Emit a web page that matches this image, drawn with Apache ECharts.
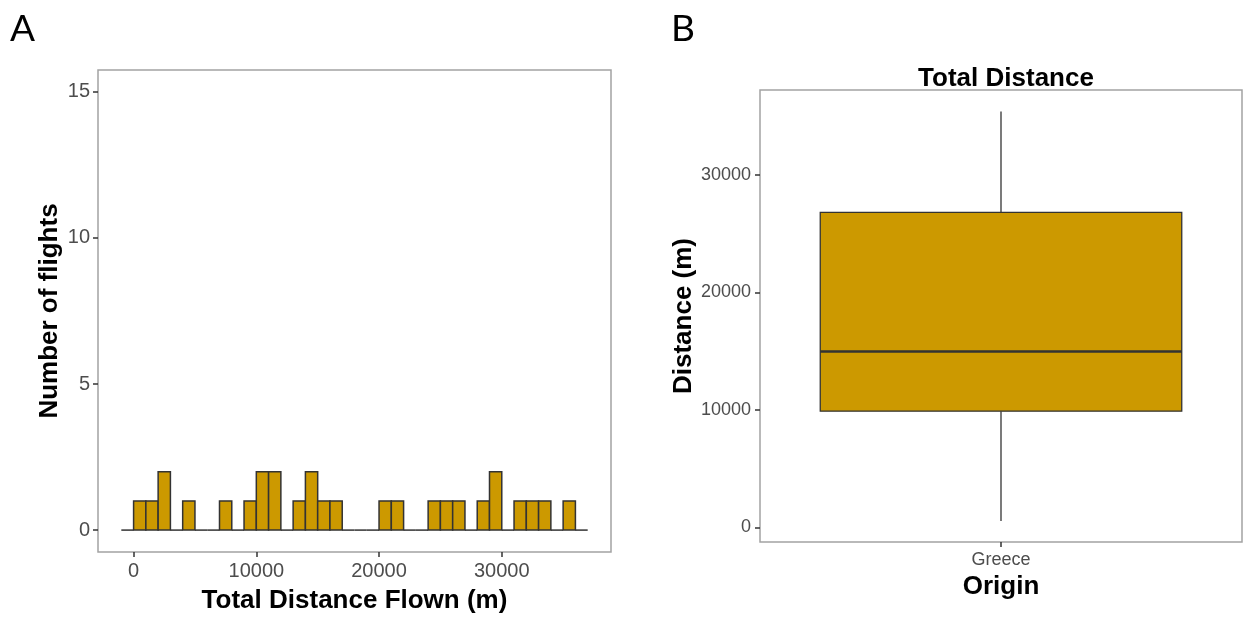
<!DOCTYPE html>
<html lang="en">
<head>
    <meta charset="UTF-8">
    <title>Total Distance</title>
    <script src="https://cdn.jsdelivr.net/npm/echarts@6/dist/echarts.min.js"></script>
    <style>
        html, body { margin: 0; padding: 0; background: #fff; }
        #main { width: 1246px; height: 617px; }
    </style>
</head>
<body>
    <div id="main"></div>
    <script type="text/javascript">
        // histogram: bin start (m), bin width 1000 m, number of flights per bin
        const binStarts = [-1000, 0, 1000, 2000, 3000, 4000, 5000, 6000, 7000, 8000, 9000,
            10000, 11000, 12000, 13000, 14000, 15000, 16000, 17000, 18000, 19000,
            20000, 21000, 22000, 23000, 24000, 25000, 26000, 27000, 28000, 29000,
            30000, 31000, 32000, 33000, 34000, 35000, 36000];
        const binWidth = 1000;
        const flightCounts = [0, 1, 1, 2, 0, 1, 0, 0, 1, 0, 1,
            2, 2, 0, 1, 2, 1, 1, 0, 0, 0,
            1, 1, 0, 0, 1, 1, 1, 0, 1, 2,
            0, 1, 1, 1, 0, 1, 0];
        const histXTicks = [0, 10000, 20000, 30000];
        const histYTicks = [0, 5, 10, 15];

        // boxplot: min, q1, median, q3, max
        const origins = ['Greece'];
        const boxStats = [[540, 9890, 14970, 26820, 35410]];
        const boxYTicks = [0, 10000, 20000, 30000];

        const fill = '#cc9900';
        const edge = '#333333';
        const frame = '#a3a3a3';
        const labelColor = '#4d4d4d';
        const font = '"Liberation Sans", Arial, sans-serif';
        const plain = function (v) { return String(v); };

        const histData = binStarts.map(function (s, i) {
            return [s, s + binWidth, flightCounts[i]];
        });
        const boxData = boxStats.map(function (b, i) {
            return [i].concat(b);
        });

        const chart = echarts.init(document.getElementById('main'));
        option = {
            animation: false,
            textStyle: { fontFamily: font },
            title: [
                { text: 'A', left: 5, top: 6, textStyle: { fontFamily: 'Lato, "Open Sans", sans-serif', fontSize: 37, fontWeight: 'normal', color: '#000' } },
                { text: 'B', left: 666, top: 6, textStyle: { fontFamily: 'Lato, "Open Sans", sans-serif', fontSize: 37, fontWeight: 'normal', color: '#000' } },
                { text: 'Total Distance', left: 1001, top: 61, textAlign: 'center', textStyle: { fontFamily: font, fontSize: 26, fontWeight: 'bold', color: '#000' } }
            ],
            grid: [
                { left: 98, top: 70, width: 513, height: 482, outerBoundsMode: 'none', containLabel: false, show: true, borderColor: frame, borderWidth: 1.5, backgroundColor: '#fff' },
                { left: 760, top: 90, width: 482, height: 452, outerBoundsMode: 'none', containLabel: false, show: true, borderColor: frame, borderWidth: 1.5, backgroundColor: '#fff' }
            ],
            xAxis: [{
                type: 'value',
                gridIndex: 0,
                min: -2900,
                max: 38900,
                splitLine: { show: false },
                axisLine: { show: false, onZero: false },
                axisTick: { show: true, length: 5, customValues: histXTicks, lineStyle: { color: edge, width: 1.5 } },
                axisLabel: { customValues: histXTicks, formatter: plain, fontSize: 20, color: labelColor, margin: 9 },
                name: 'Total Distance Flown (m)',
                nameLocation: 'middle',
                nameGap: 36,
                nameTextStyle: { fontSize: 26, fontWeight: 'bold', color: '#000' }
            }, {
                type: 'category',
                gridIndex: 1,
                data: origins,
                boundaryGap: true,
                splitLine: { show: false },
                axisLine: { show: false, onZero: false },
                axisTick: { show: true, alignWithLabel: true, length: 5, lineStyle: { color: edge, width: 1.5 } },
                axisLabel: { fontSize: 18, color: labelColor, margin: 9 },
                name: 'Origin',
                nameLocation: 'middle',
                nameGap: 32,
                nameTextStyle: { fontSize: 26, fontWeight: 'bold', color: '#000' }
            }],
            yAxis: [{
                type: 'value',
                gridIndex: 0,
                min: -0.75,
                max: 15.75,
                splitLine: { show: false },
                axisLine: { show: false, onZero: false },
                axisTick: { show: true, length: 5, customValues: histYTicks, lineStyle: { color: edge, width: 1.5 } },
                axisLabel: { customValues: histYTicks, formatter: plain, fontSize: 20, color: labelColor, margin: 8 },
                name: 'Number of flights',
                nameLocation: 'middle',
                nameGap: 35,
                nameTextStyle: { fontSize: 26, fontWeight: 'bold', color: '#000' }
            }, {
                type: 'value',
                gridIndex: 1,
                min: -1250,
                max: 37250,
                splitLine: { show: false },
                axisLine: { show: false, onZero: false },
                axisTick: { show: true, length: 5, customValues: boxYTicks, lineStyle: { color: edge, width: 1.5 } },
                axisLabel: { customValues: boxYTicks, formatter: plain, fontSize: 18, color: labelColor, margin: 9 },
                name: 'Distance (m)',
                nameLocation: 'middle',
                nameGap: 62,
                nameTextStyle: { fontSize: 26, fontWeight: 'bold', color: '#000' }
            }],
            series: [{
                type: 'custom',
                xAxisIndex: 0,
                yAxisIndex: 0,
                data: histData,
                encode: { x: [0, 1], y: 2 },
                renderItem: function (params, api) {
                    const p0 = api.coord([api.value(0), api.value(2)]);
                    const p1 = api.coord([api.value(1), 0]);
                    if (api.value(2) === 0) {
                        return {
                            type: 'line',
                            shape: { x1: p0[0], y1: p1[1], x2: p1[0], y2: p1[1] },
                            style: { stroke: edge, lineWidth: 1.5 }
                        };
                    }
                    return {
                        type: 'rect',
                        shape: { x: p0[0], y: p0[1], width: p1[0] - p0[0], height: p1[1] - p0[1] },
                        style: { fill: fill, stroke: edge, lineWidth: 1.5 }
                    };
                }
            }, {
                type: 'custom',
                xAxisIndex: 1,
                yAxisIndex: 1,
                data: boxData,
                encode: { x: 0, y: [1, 2, 3, 4, 5] },
                renderItem: function (params, api) {
                    const x = api.value(0);
                    const w = api.size([1, 0])[0] * 0.75;
                    const pMin = api.coord([x, api.value(1)]);
                    const pQ1 = api.coord([x, api.value(2)]);
                    const pMed = api.coord([x, api.value(3)]);
                    const pQ3 = api.coord([x, api.value(4)]);
                    const pMax = api.coord([x, api.value(5)]);
                    const cx = pMed[0];
                    return {
                        type: 'group',
                        children: [
                            { type: 'line', shape: { x1: cx, y1: pMax[1], x2: cx, y2: pQ3[1] }, style: { stroke: edge, lineWidth: 1.3 } },
                            { type: 'line', shape: { x1: cx, y1: pQ1[1], x2: cx, y2: pMin[1] }, style: { stroke: edge, lineWidth: 1.3 } },
                            { type: 'rect', shape: { x: cx - w / 2, y: pQ3[1], width: w, height: pQ1[1] - pQ3[1] }, style: { fill: fill, stroke: edge, lineWidth: 1.3 } },
                            { type: 'line', shape: { x1: cx - w / 2, y1: pMed[1], x2: cx + w / 2, y2: pMed[1] }, style: { stroke: edge, lineWidth: 2.6 } }
                        ]
                    };
                }
            }]
        };
        chart.setOption(option);
    </script>
</body>
</html>
